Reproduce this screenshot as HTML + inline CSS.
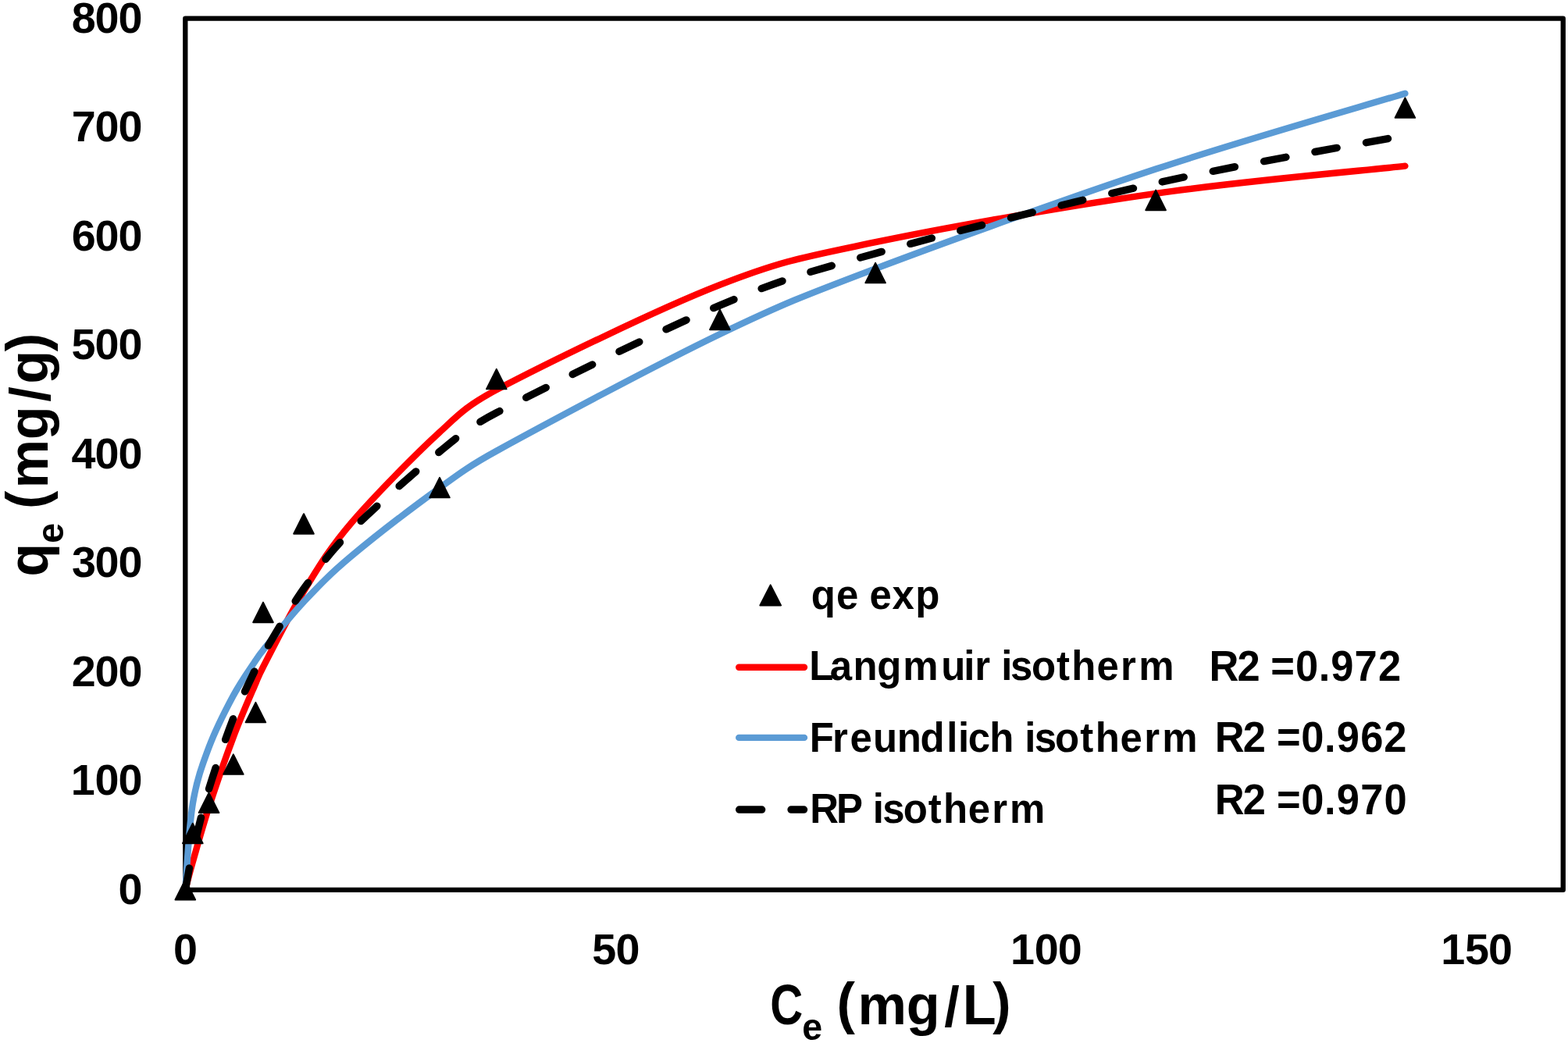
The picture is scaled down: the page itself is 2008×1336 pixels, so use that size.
<!DOCTYPE html>
<html lang="en"><head><meta charset="utf-8"><title>Adsorption isotherms</title>
<style>html,body{margin:0;padding:0;background:#fff}body{width:2008px;height:1336px;overflow:hidden}svg{display:block}text{font-family:"Liberation Sans",Arial,sans-serif;font-weight:bold;fill:#000;white-space:pre}</style></head><body>
<svg xmlns="http://www.w3.org/2000/svg" width="2008" height="1336" viewBox="0 0 2008 1336" role="img" aria-label="Adsorption isotherm chart">
<title>Adsorption isotherms: qe (mg/g) versus Ce (mg/L)</title>
<desc>Scatter chart of equilibrium adsorption capacity qe (mg/g) against equilibrium concentration Ce (mg/L). Series: qe exp (triangles), Langmuir isotherm R2 =0.972 (red line), Freundlich isotherm R2 =0.962 (blue line), RP isotherm R2 =0.970 (black dashed line).</desc>
<rect width="2008" height="1336" fill="#fff"/>
<rect x="237.30" y="23.65" width="1764.45" height="1116.15" fill="none" stroke="#000" stroke-width="6.33" stroke-linejoin="round"/>
<g fill="none" stroke-linecap="round" stroke-linejoin="round">
<path d="M237.30 1139.80 C238.88 1133.87 241.75 1121.87 246.80 1104.20 C251.85 1086.53 258.93 1060.47 267.60 1033.80 C276.27 1007.13 288.82 970.67 298.80 944.20 C308.78 917.73 321.15 889.95 327.50 875.00 C331.91 864.62 331.67 864.49 336.90 854.50 C347.15 834.90 370.15 788.20 389.00 757.40 C407.85 726.60 421.00 703.65 450.00 669.70 C479.00 635.75 532.05 582.08 563.00 553.70 C583.78 534.65 595.55 520.52 635.70 499.40 C695.52 467.93 840.98 396.43 921.90 364.90 C1002.82 333.37 1028.17 329.72 1121.20 310.20 C1214.23 290.68 1367.07 264.05 1480.10 247.80 C1593.13 231.55 1746.18 218.55 1799.40 212.70" stroke="#FF0000" stroke-width="8.40"/>
<path d="M237.30 1139.80 C238.88 1121.43 241.75 1060.05 246.80 1029.60 C251.85 999.15 258.93 980.20 267.60 957.10 C276.27 934.00 288.82 909.55 298.80 891.00 C308.78 872.45 321.15 855.50 327.50 845.80 C331.89 839.09 331.81 839.00 336.90 832.80 C347.15 820.32 370.15 790.98 389.00 770.90 C407.85 750.82 421.00 736.62 450.00 712.30 C479.00 687.98 532.05 647.43 563.00 625.00 C582.67 610.74 597.68 598.57 635.70 577.70 C695.52 544.87 840.98 466.93 921.90 428.00 C1002.82 389.07 1028.17 379.33 1121.20 344.10 C1214.23 308.87 1367.07 254.00 1480.10 216.60 C1593.13 179.20 1746.18 135.85 1799.40 119.70" stroke="#5B9BD5" stroke-width="8.40"/>
</g>
<g fill="#000" stroke="#000" stroke-width="2.0" stroke-linejoin="round">
<path d="M237.30 1127.05 L250.10 1152.55 L224.50 1152.55 Z"/>
<path d="M246.80 1054.75 L259.60 1080.25 L234.00 1080.25 Z"/>
<path d="M267.50 1015.55 L280.30 1041.05 L254.70 1041.05 Z"/>
<path d="M298.85 966.35 L311.65 991.85 L286.05 991.85 Z"/>
<path d="M327.40 899.85 L340.20 925.35 L314.60 925.35 Z"/>
<path d="M337.00 771.65 L349.80 797.15 L324.20 797.15 Z"/>
<path d="M389.00 658.25 L401.80 683.75 L376.20 683.75 Z"/>
<path d="M563.00 611.85 L575.80 637.35 L550.20 637.35 Z"/>
<path d="M635.80 472.85 L648.60 498.35 L623.00 498.35 Z"/>
<path d="M921.90 396.65 L934.70 422.15 L909.10 422.15 Z"/>
<path d="M1121.10 336.85 L1133.90 362.35 L1108.30 362.35 Z"/>
<path d="M1480.10 243.65 L1492.90 269.15 L1467.30 269.15 Z"/>
<path d="M1799.40 125.35 L1812.20 150.85 L1786.60 150.85 Z"/>
<path d="M986.70 749.35 L1000.05 775.45 L973.35 775.45 Z"/>
</g>
<path d="M237.30 1139.80 C238.88 1131.80 241.75 1113.37 246.80 1091.80 C251.85 1070.23 258.93 1039.00 267.60 1010.40 C276.27 981.80 288.82 945.87 298.80 920.20 C308.78 894.53 321.15 870.07 327.50 856.40 C331.82 847.11 331.62 846.98 336.90 838.20 C347.15 821.15 370.15 780.55 389.00 754.10 C407.85 727.65 421.00 708.77 450.00 679.50 C479.00 650.23 532.05 603.62 563.00 578.50 C583.20 562.11 596.67 549.18 635.70 528.80 C695.52 497.57 840.98 425.13 921.90 391.10 C1002.82 357.07 1028.17 350.67 1121.20 324.60 C1214.23 298.53 1367.07 259.88 1480.10 234.70 C1593.13 209.52 1746.18 183.70 1799.40 173.50" fill="none" stroke="#000" stroke-width="9.49" stroke-linecap="round" stroke-dasharray="28.47 37.96" stroke-dashoffset="0.00"/>
<text transform="translate(0 1157.8) scale(1.0000 1)" x="151.51" y="0" font-size="55.7">0</text>
<text transform="translate(0 1018.28) scale(1.0000 1)" x="90.69 121.61 151.51" y="0" font-size="55.7">100</text>
<text transform="translate(0 878.76) scale(1.0000 1)" x="91.82 121.61 151.51" y="0" font-size="55.7">200</text>
<text transform="translate(0 739.24) scale(1.0000 1)" x="92.03 121.61 151.51" y="0" font-size="55.7">300</text>
<text transform="translate(0 599.73) scale(1.0000 1)" x="91.39 121.61 151.51" y="0" font-size="55.7">400</text>
<text transform="translate(0 460.21) scale(1.0000 1)" x="91.58 121.61 151.51" y="0" font-size="55.7">500</text>
<text transform="translate(0 320.69) scale(1.0000 1)" x="91.65 121.61 151.51" y="0" font-size="55.7">600</text>
<text transform="translate(0 181.17) scale(1.0000 1)" x="91.69 121.61 151.51" y="0" font-size="55.7">700</text>
<text transform="translate(0 41.65) scale(1.0000 1)" x="91.64 121.61 151.51" y="0" font-size="55.7">800</text>
<text transform="translate(0 1235.05) scale(1.0000 1)" x="222.05" y="0" font-size="55.7">0</text>
<text transform="translate(0 1235.05) scale(1.0000 1)" x="758.37 788.39" y="0" font-size="55.7">50</text>
<text transform="translate(0 1235.05) scale(1.0000 1)" x="1293.91 1324.83 1354.73" y="0" font-size="55.7">100</text>
<text transform="translate(0 1235.05) scale(1.0000 1)" x="1845.3 1876.1 1906.12" y="0" font-size="55.7">150</text>
<text transform="translate(0 1312.3) scale(0.9700 1)" font-size="72.5"><tspan x="1016.82" y="0" textLength="43.27" lengthAdjust="spacingAndGlyphs">C</tspan><tspan font-size="48" x="1058.91" y="19.7">e</tspan><tspan x="1084.62 1104.77 1132.42 1196.73 1246.68 1270.77 1310.68" y="0 -1.9 0 0 2.8 0 -1.9"> (mg/L)</tspan></text>
<text transform="translate(61 0) rotate(-90) scale(0.9700 1)" font-size="72.5"><tspan x="-761.29" y="0" textLength="43.82" lengthAdjust="spacingAndGlyphs">q</tspan><tspan font-size="48" x="-717.28" y="19.7">e</tspan><tspan x="-692.33 -672.19 -644.8 -580.69 -530.69 -507.08 -464.22" y="0 -1.9 0 0 2.8 0 -1.9"> (mg/g)</tspan></text>
<g fill="none" stroke-linecap="round">
<path d="M946.2 854.7 H1030.0" stroke="#FF0000" stroke-width="8.4"/>
<path d="M946.2 944.9 H1030.0" stroke="#5B9BD5" stroke-width="8.4"/>
<path d="M946.7 1037.1 H975.6 M1013.1 1037.1 H1029.5" stroke="#000" stroke-width="9.49"/>
</g>
<text transform="translate(0 780) scale(0.9350 1)" x="1111.07 1145.46 1175.77 1190.92 1221.84 1253.75" y="0" font-size="54.5">qe exp</text>
<text transform="translate(0 871.25) scale(0.9350 1)" x="1108.36 1136.63 1168.44 1201.28 1236.71 1288.97 1320 1334.94 1356.15 1371.44 1384.04 1412.82 1447.13 1467.77 1502.09 1534.8 1559.57" y="0" font-size="54.5">Langmuir isotherm</text>
<text transform="translate(0 871.6) scale(0.9450 1)" x="1638.51 1676.67 1707.54 1722.09 1755.67 1786.92 1803.47 1835.49 1867.68" y="0" font-size="55.5">R2 =0.972</text>
<text transform="translate(0 963) scale(0.9350 1)" x="1108.87 1140.1 1164.18 1195.71 1228.54 1260.45 1296.6 1312.3 1325.84 1355.47 1388.76 1403.53 1416.82 1444.91 1479.54 1500.17 1534.18 1567.24 1591.76" y="0" font-size="54.5">Freundlich isotherm</text>
<text transform="translate(0 963.2) scale(0.9450 1)" x="1646.34 1684.5 1715.37 1730.29 1763.18 1794.8 1811.3 1843.65 1875.51" y="0" font-size="55.5">R2 =0.962</text>
<text transform="translate(0 1054.4) scale(0.9350 1)" x="1109.27 1145.59 1181.94 1195.45 1208.91 1237.1 1271.51 1291.86 1325.83 1358.49 1382.78" y="0" font-size="54.5">RP isotherm</text>
<text transform="translate(0 1043) scale(0.9450 1)" x="1646.34 1684.5 1715.37 1730.29 1763.18 1794.8 1811.3 1843.69 1875.77" y="0" font-size="55.5">R2 =0.970</text>
</svg></body></html>
